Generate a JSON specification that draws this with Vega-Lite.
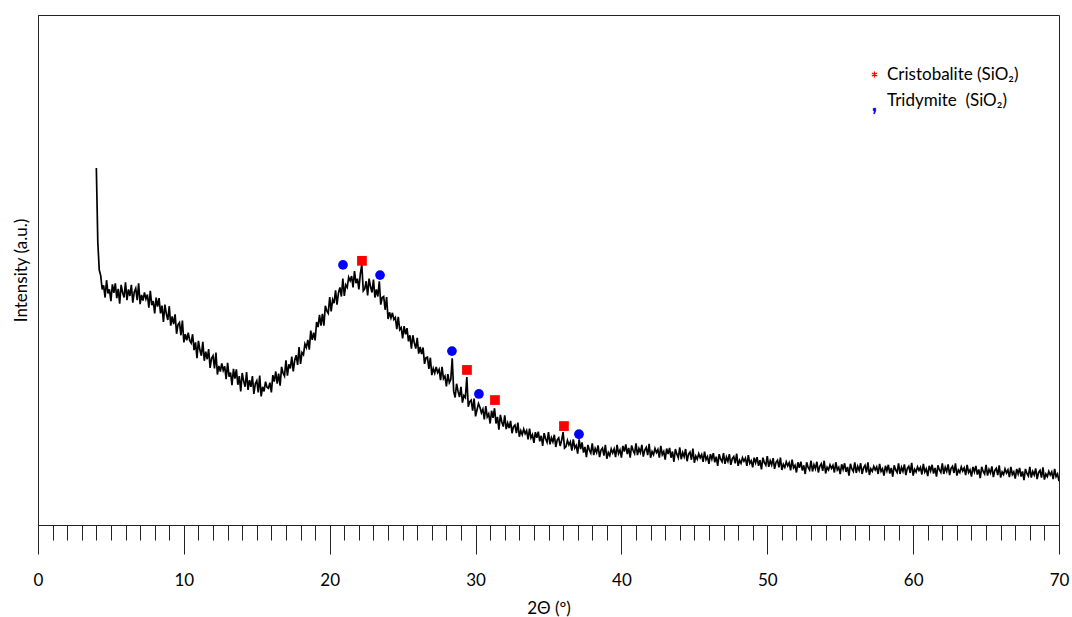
{
  "$schema": "https://vega.github.io/schema/vega-lite/v6.json",
  "width": 1021,
  "height": 510,
  "autosize": "none",
  "padding": {"left": 38, "top": 15, "right": 13, "bottom": 92},
  "background": "white",
  "config": {
    "view": {"stroke": "#222222", "strokeWidth": 1},
    "font": "Lato"
  },
  "resolve": {"scale": {"color": "independent"}, "legend": {"color": "independent"}},
  "datasets": {
    "pattern": [
      {"x":4.0,"y":70.0},{"x":4.1,"y":55.5},{"x":4.2,"y":50.0},{"x":4.3,"y":48.9},{"x":4.4,"y":46.2},
      {"x":4.5,"y":47.0},{"x":4.6,"y":44.6},{"x":4.7,"y":48.0},{"x":4.8,"y":45.4},{"x":4.9,"y":46.2},
      {"x":5.0,"y":43.9},{"x":5.1,"y":47.2},{"x":5.2,"y":45.5},{"x":5.3,"y":47.4},{"x":5.4,"y":44.5},
      {"x":5.5,"y":46.3},{"x":5.6,"y":43.4},{"x":5.7,"y":47.1},{"x":5.8,"y":45.6},{"x":5.9,"y":44.6},
      {"x":6.0,"y":47.6},{"x":6.1,"y":44.1},{"x":6.2,"y":46.2},{"x":6.3,"y":44.9},{"x":6.4,"y":47.1},
      {"x":6.5,"y":43.6},{"x":6.6,"y":45.7},{"x":6.7,"y":46.4},{"x":6.8,"y":44.1},{"x":6.9,"y":47.4},
      {"x":7.0,"y":43.3},{"x":7.1,"y":45.1},{"x":7.2,"y":44.0},{"x":7.3,"y":45.6},{"x":7.4,"y":44.3},
      {"x":7.5,"y":45.2},{"x":7.6,"y":42.6},{"x":7.7,"y":45.9},{"x":7.8,"y":43.1},{"x":7.9,"y":43.9},
      {"x":8.0,"y":41.5},{"x":8.1,"y":44.6},{"x":8.2,"y":42.8},{"x":8.3,"y":44.5},{"x":8.4,"y":41.5},
      {"x":8.5,"y":43.0},{"x":8.6,"y":39.8},{"x":8.7,"y":43.2},{"x":8.8,"y":41.4},{"x":8.9,"y":40.2},
      {"x":9.0,"y":42.9},{"x":9.1,"y":39.1},{"x":9.2,"y":40.9},{"x":9.3,"y":39.4},{"x":9.4,"y":41.3},
      {"x":9.5,"y":37.5},{"x":9.6,"y":39.3},{"x":9.7,"y":39.7},{"x":9.8,"y":37.2},{"x":9.9,"y":40.1},
      {"x":10.0,"y":35.8},{"x":10.1,"y":37.4},{"x":10.2,"y":36.2},{"x":10.3,"y":37.7},{"x":10.4,"y":36.2},
      {"x":10.5,"y":35.7},{"x":10.6,"y":37.4},{"x":10.7,"y":34.3},{"x":10.8,"y":35.8},{"x":10.9,"y":32.7},
      {"x":11.0,"y":36.1},{"x":11.1,"y":34.3},{"x":11.2,"y":33.2},{"x":11.3,"y":35.9},{"x":11.4,"y":32.2},
      {"x":11.5,"y":34.0},{"x":11.6,"y":32.5},{"x":11.7,"y":34.5},{"x":11.8,"y":30.8},{"x":11.9,"y":32.7},
      {"x":12.0,"y":33.2},{"x":12.1,"y":30.7},{"x":12.2,"y":33.8},{"x":12.3,"y":29.5},{"x":12.4,"y":31.2},
      {"x":12.5,"y":30.1},{"x":12.6,"y":31.7},{"x":12.7,"y":30.3},{"x":12.8,"y":31.1},{"x":12.9,"y":28.6},
      {"x":13.0,"y":31.8},{"x":13.1,"y":29.1},{"x":13.2,"y":29.9},{"x":13.3,"y":27.4},{"x":13.4,"y":30.6},
      {"x":13.5,"y":28.7},{"x":13.6,"y":30.5},{"x":13.7,"y":27.5},{"x":13.8,"y":29.2},{"x":13.9,"y":26.2},
      {"x":14.0,"y":29.8},{"x":14.1,"y":28.2},{"x":14.2,"y":27.1},{"x":14.3,"y":30.0},{"x":14.4,"y":26.5},
      {"x":14.5,"y":28.4},{"x":14.6,"y":27.1},{"x":14.7,"y":29.2},{"x":14.8,"y":25.7},{"x":14.9,"y":27.7},
      {"x":15.0,"y":28.3},{"x":15.1,"y":26.0},{"x":15.2,"y":29.3},{"x":15.3,"y":25.2},{"x":15.4,"y":27.1},
      {"x":15.5,"y":26.2},{"x":15.6,"y":28.1},{"x":15.7,"y":27.0},{"x":15.8,"y":26.8},{"x":15.9,"y":27.9},
      {"x":16.0,"y":26.0},{"x":16.1,"y":29.4},{"x":16.2,"y":28.1},{"x":16.3,"y":30.1},{"x":16.4,"y":27.7},
      {"x":16.5,"y":29.7},{"x":16.6,"y":27.3},{"x":16.7,"y":31.0},{"x":16.8,"y":29.8},{"x":16.9,"y":29.2},
      {"x":17.0,"y":32.3},{"x":17.1,"y":29.3},{"x":17.2,"y":31.5},{"x":17.3,"y":30.7},{"x":17.4,"y":33.0},
      {"x":17.5,"y":30.1},{"x":17.6,"y":32.3},{"x":17.7,"y":33.3},{"x":17.8,"y":31.4},{"x":17.9,"y":34.9},
      {"x":18.0,"y":31.6},{"x":18.1,"y":33.8},{"x":18.2,"y":33.4},{"x":18.3,"y":35.5},{"x":18.4,"y":34.8},
      {"x":18.5,"y":36.3},{"x":18.6,"y":34.4},{"x":18.7,"y":38.1},{"x":18.8,"y":36.3},{"x":18.9,"y":37.7},
      {"x":19.0,"y":36.2},{"x":19.1,"y":39.8},{"x":19.2,"y":38.8},{"x":19.3,"y":41.2},{"x":19.4,"y":39.1},
      {"x":19.5,"y":41.4},{"x":19.6,"y":39.1},{"x":19.7,"y":43.0},{"x":19.8,"y":42.0},{"x":19.9,"y":41.5},
      {"x":20.0,"y":44.7},{"x":20.1,"y":41.9},{"x":20.2,"y":44.2},{"x":20.3,"y":43.5},{"x":20.4,"y":46.0},
      {"x":20.5,"y":43.2},{"x":20.6,"y":45.5},{"x":20.7,"y":46.6},{"x":20.8,"y":44.8},{"x":20.9,"y":48.3},
      {"x":21.0,"y":44.9},{"x":21.1,"y":47.1},{"x":21.2,"y":46.6},{"x":21.3,"y":48.6},{"x":21.4,"y":47.9},
      {"x":21.5,"y":48.8},{"x":21.6,"y":46.6},{"x":21.7,"y":49.8},{"x":21.8,"y":47.4},{"x":21.9,"y":48.3},
      {"x":22.0,"y":46.2},{"x":22.1,"y":49.3},{"x":22.2,"y":51.0},{"x":22.3,"y":45.9},{"x":22.4,"y":46.3},
      {"x":22.5,"y":47.8},{"x":22.6,"y":45.0},{"x":22.7,"y":48.3},{"x":22.8,"y":46.7},{"x":22.9,"y":45.6},
      {"x":23.0,"y":48.1},{"x":23.1,"y":44.6},{"x":23.2,"y":46.2},{"x":23.3,"y":44.8},{"x":23.4,"y":47.8},
      {"x":23.5,"y":43.2},{"x":23.6,"y":44.6},{"x":23.7,"y":44.8},{"x":23.8,"y":42.2},{"x":23.9,"y":44.7},
      {"x":24.0,"y":40.4},{"x":24.1,"y":41.7},{"x":24.2,"y":40.6},{"x":24.3,"y":41.6},{"x":24.4,"y":40.3},
      {"x":24.5,"y":40.7},{"x":24.6,"y":38.4},{"x":24.7,"y":40.8},{"x":24.8,"y":38.3},{"x":24.9,"y":38.7},
      {"x":25.0,"y":36.6},{"x":25.1,"y":39.0},{"x":25.2,"y":37.4},{"x":25.3,"y":38.6},{"x":25.4,"y":36.0},
      {"x":25.5,"y":37.2},{"x":25.6,"y":34.6},{"x":25.7,"y":37.2},{"x":25.8,"y":35.7},{"x":25.9,"y":34.6},
      {"x":26.0,"y":36.7},{"x":26.1,"y":33.6},{"x":26.2,"y":34.9},{"x":26.3,"y":33.5},{"x":26.4,"y":34.8},
      {"x":26.5,"y":31.6},{"x":26.6,"y":32.8},{"x":26.7,"y":32.9},{"x":26.8,"y":30.6},{"x":26.9,"y":32.8},
      {"x":27.0,"y":29.4},{"x":27.1,"y":30.7},{"x":27.2,"y":29.8},{"x":27.3,"y":31.0},{"x":27.4,"y":29.9},
      {"x":27.5,"y":30.5},{"x":27.6,"y":28.4},{"x":27.7,"y":31.0},{"x":27.8,"y":28.7},{"x":27.9,"y":29.2},
      {"x":28.0,"y":27.2},{"x":28.1,"y":29.6},{"x":28.2,"y":27.9},{"x":28.3,"y":28.5},{"x":28.4,"y":32.7},
      {"x":28.5,"y":26.2},{"x":28.6,"y":25.0},{"x":28.7,"y":27.7},{"x":28.8,"y":26.2},{"x":28.9,"y":25.1},
      {"x":29.0,"y":27.1},{"x":29.1,"y":24.0},{"x":29.2,"y":25.4},{"x":29.3,"y":25.0},{"x":29.4,"y":29.0},
      {"x":29.5,"y":23.2},{"x":29.6,"y":24.2},{"x":29.7,"y":24.5},{"x":29.8,"y":22.4},{"x":29.9,"y":24.8},
      {"x":30.0,"y":21.3},{"x":30.1,"y":22.6},{"x":30.2,"y":23.8},{"x":30.3,"y":23.1},{"x":30.4,"y":22.0},
      {"x":30.5,"y":22.7},{"x":30.6,"y":20.7},{"x":30.7,"y":23.3},{"x":30.8,"y":21.2},{"x":30.9,"y":21.8},
      {"x":31.0,"y":19.9},{"x":31.1,"y":22.4},{"x":31.2,"y":21.0},{"x":31.3,"y":22.9},{"x":31.4,"y":19.9},
      {"x":31.5,"y":21.2},{"x":31.6,"y":18.7},{"x":31.7,"y":21.6},{"x":31.8,"y":20.2},{"x":31.9,"y":19.3},
      {"x":32.0,"y":21.5},{"x":32.1,"y":18.8},{"x":32.2,"y":20.0},{"x":32.3,"y":19.0},{"x":32.4,"y":20.4},
      {"x":32.5,"y":18.0},{"x":32.6,"y":19.3},{"x":32.7,"y":19.6},{"x":32.8,"y":18.0},{"x":32.9,"y":20.1},
      {"x":33.0,"y":17.3},{"x":33.1,"y":18.5},{"x":33.2,"y":17.7},{"x":33.3,"y":18.8},{"x":33.4,"y":17.9},
      {"x":33.5,"y":18.5},{"x":33.6,"y":16.8},{"x":33.7,"y":18.9},{"x":33.8,"y":17.1},{"x":33.9,"y":17.7},
      {"x":34.0,"y":16.1},{"x":34.1,"y":18.2},{"x":34.2,"y":17.1},{"x":34.3,"y":18.3},{"x":34.4,"y":16.4},
      {"x":34.5,"y":17.5},{"x":34.6,"y":15.5},{"x":34.7,"y":18.0},{"x":34.8,"y":16.9},{"x":34.9,"y":16.2},
      {"x":35.0,"y":18.2},{"x":35.1,"y":15.8},{"x":35.2,"y":17.1},{"x":35.3,"y":16.3},{"x":35.4,"y":17.7},
      {"x":35.5,"y":15.3},{"x":35.6,"y":16.7},{"x":35.7,"y":17.1},{"x":35.8,"y":15.5},{"x":35.9,"y":16.6},
      {"x":36.0,"y":18.2},{"x":36.1,"y":15.1},{"x":36.2,"y":15.4},{"x":36.3,"y":16.6},{"x":36.4,"y":15.7},
      {"x":36.5,"y":16.3},{"x":36.6,"y":14.6},{"x":36.7,"y":16.8},{"x":36.8,"y":15.1},{"x":36.9,"y":15.6},
      {"x":37.0,"y":14.0},{"x":37.1,"y":16.8},{"x":37.2,"y":14.9},{"x":37.3,"y":16.2},{"x":37.4,"y":14.2},
      {"x":37.5,"y":15.3},{"x":37.6,"y":13.3},{"x":37.7,"y":15.7},{"x":37.8,"y":14.7},{"x":37.9,"y":14.1},
      {"x":38.0,"y":16.0},{"x":38.1,"y":13.7},{"x":38.2,"y":15.0},{"x":38.3,"y":14.2},{"x":38.4,"y":15.6},
      {"x":38.5,"y":13.3},{"x":38.6,"y":14.7},{"x":38.7,"y":15.1},{"x":38.8,"y":13.6},{"x":38.9,"y":15.7},
      {"x":39.0,"y":13.0},{"x":39.1,"y":14.2},{"x":39.2,"y":13.6},{"x":39.3,"y":14.9},{"x":39.4,"y":14.1},
      {"x":39.5,"y":14.9},{"x":39.6,"y":13.3},{"x":39.7,"y":15.7},{"x":39.8,"y":14.0},{"x":39.9,"y":14.7},
      {"x":40.0,"y":13.2},{"x":40.1,"y":15.5},{"x":40.2,"y":14.4},{"x":40.3,"y":15.8},{"x":40.4,"y":13.9},
      {"x":40.5,"y":15.1},{"x":40.6,"y":13.2},{"x":40.7,"y":15.6},{"x":40.8,"y":14.6},{"x":40.9,"y":14.0},
      {"x":41.0,"y":16.0},{"x":41.1,"y":13.7},{"x":41.2,"y":15.0},{"x":41.3,"y":14.2},{"x":41.4,"y":15.7},
      {"x":41.5,"y":13.4},{"x":41.6,"y":14.7},{"x":41.7,"y":15.2},{"x":41.8,"y":13.7},{"x":41.9,"y":15.9},
      {"x":42.0,"y":13.2},{"x":42.1,"y":14.4},{"x":42.2,"y":13.8},{"x":42.3,"y":15.0},{"x":42.4,"y":14.2},
      {"x":42.5,"y":14.8},{"x":42.6,"y":13.2},{"x":42.7,"y":15.5},{"x":42.8,"y":13.8},{"x":42.9,"y":14.4},
      {"x":43.0,"y":12.8},{"x":43.1,"y":15.0},{"x":43.2,"y":13.9},{"x":43.3,"y":15.1},{"x":43.4,"y":13.2},
      {"x":43.5,"y":14.4},{"x":43.6,"y":12.4},{"x":43.7,"y":14.9},{"x":43.8,"y":13.9},{"x":43.9,"y":13.2},
      {"x":44.0,"y":15.2},{"x":44.1,"y":12.9},{"x":44.2,"y":14.2},{"x":44.3,"y":13.4},{"x":44.4,"y":14.9},
      {"x":44.5,"y":12.5},{"x":44.6,"y":13.9},{"x":44.7,"y":14.3},{"x":44.8,"y":12.8},{"x":44.9,"y":15.0},
      {"x":45.0,"y":12.2},{"x":45.1,"y":13.5},{"x":45.2,"y":12.9},{"x":45.3,"y":14.0},{"x":45.4,"y":13.2},
      {"x":45.5,"y":13.8},{"x":45.6,"y":12.4},{"x":45.7,"y":14.4},{"x":45.8,"y":12.8},{"x":45.9,"y":13.4},
      {"x":46.0,"y":12.0},{"x":46.1,"y":13.9},{"x":46.2,"y":12.9},{"x":46.3,"y":14.1},{"x":46.4,"y":12.3},
      {"x":46.5,"y":13.4},{"x":46.6,"y":11.6},{"x":46.7,"y":13.9},{"x":46.8,"y":12.9},{"x":46.9,"y":12.4},
      {"x":47.0,"y":14.1},{"x":47.1,"y":12.0},{"x":47.2,"y":13.3},{"x":47.3,"y":12.5},{"x":47.4,"y":13.9},
      {"x":47.5,"y":11.8},{"x":47.6,"y":13.0},{"x":47.7,"y":13.4},{"x":47.8,"y":12.1},{"x":47.9,"y":14.0},
      {"x":48.0,"y":11.6},{"x":48.1,"y":12.7},{"x":48.2,"y":12.1},{"x":48.3,"y":13.2},{"x":48.4,"y":12.5},
      {"x":48.5,"y":13.1},{"x":48.6,"y":11.6},{"x":48.7,"y":13.7},{"x":48.8,"y":12.1},{"x":48.9,"y":12.6},
      {"x":49.0,"y":11.3},{"x":49.1,"y":13.2},{"x":49.2,"y":12.2},{"x":49.3,"y":13.3},{"x":49.4,"y":11.6},
      {"x":49.5,"y":12.7},{"x":49.6,"y":10.9},{"x":49.7,"y":13.2},{"x":49.8,"y":12.2},{"x":49.9,"y":11.7},
      {"x":50.0,"y":13.5},{"x":50.1,"y":11.4},{"x":50.2,"y":12.6},{"x":50.3,"y":11.8},{"x":50.4,"y":13.1},
      {"x":50.5,"y":11.0},{"x":50.6,"y":12.3},{"x":50.7,"y":12.7},{"x":50.8,"y":11.3},{"x":50.9,"y":13.2},
      {"x":51.0,"y":10.8},{"x":51.1,"y":11.9},{"x":51.2,"y":11.3},{"x":51.3,"y":12.4},{"x":51.4,"y":11.6},
      {"x":51.5,"y":12.2},{"x":51.6,"y":10.7},{"x":51.7,"y":12.8},{"x":51.8,"y":11.2},{"x":51.9,"y":11.7},
      {"x":52.0,"y":10.3},{"x":52.1,"y":12.3},{"x":52.2,"y":11.2},{"x":52.3,"y":12.4},{"x":52.4,"y":10.7},
      {"x":52.5,"y":11.7},{"x":52.6,"y":10.0},{"x":52.7,"y":12.3},{"x":52.8,"y":11.3},{"x":52.9,"y":10.8},
      {"x":53.0,"y":12.6},{"x":53.1,"y":10.5},{"x":53.2,"y":11.8},{"x":53.3,"y":11.0},{"x":53.4,"y":12.4},
      {"x":53.5,"y":10.3},{"x":53.6,"y":11.5},{"x":53.7,"y":12.0},{"x":53.8,"y":10.6},{"x":53.9,"y":12.6},
      {"x":54.0,"y":10.1},{"x":54.1,"y":11.3},{"x":54.2,"y":10.8},{"x":54.3,"y":11.8},{"x":54.4,"y":11.1},
      {"x":54.5,"y":11.7},{"x":54.6,"y":10.3},{"x":54.7,"y":12.3},{"x":54.8,"y":10.8},{"x":54.9,"y":11.3},
      {"x":55.0,"y":10.0},{"x":55.1,"y":11.9},{"x":55.2,"y":10.9},{"x":55.3,"y":12.1},{"x":55.4,"y":10.4},
      {"x":55.5,"y":11.4},{"x":55.6,"y":9.7},{"x":55.7,"y":12.0},{"x":55.8,"y":11.0},{"x":55.9,"y":10.5},
      {"x":56.0,"y":12.3},{"x":56.1,"y":10.2},{"x":56.2,"y":11.5},{"x":56.3,"y":10.7},{"x":56.4,"y":12.1},
      {"x":56.5,"y":10.0},{"x":56.6,"y":11.2},{"x":56.7,"y":11.7},{"x":56.8,"y":10.3},{"x":56.9,"y":12.3},
      {"x":57.0,"y":9.8},{"x":57.1,"y":11.0},{"x":57.2,"y":10.5},{"x":57.3,"y":11.5},{"x":57.4,"y":10.8},
      {"x":57.5,"y":11.4},{"x":57.6,"y":10.0},{"x":57.7,"y":12.0},{"x":57.8,"y":10.5},{"x":57.9,"y":11.0},
      {"x":58.0,"y":9.7},{"x":58.1,"y":11.6},{"x":58.2,"y":10.6},{"x":58.3,"y":11.8},{"x":58.4,"y":10.1},
      {"x":58.5,"y":11.2},{"x":58.6,"y":9.5},{"x":58.7,"y":11.7},{"x":58.8,"y":10.8},{"x":58.9,"y":10.3},
      {"x":59.0,"y":12.1},{"x":59.1,"y":10.0},{"x":59.2,"y":11.3},{"x":59.3,"y":10.5},{"x":59.4,"y":11.9},
      {"x":59.5,"y":9.8},{"x":59.6,"y":11.1},{"x":59.7,"y":11.5},{"x":59.8,"y":10.2},{"x":59.9,"y":12.2},
      {"x":60.0,"y":9.7},{"x":60.1,"y":10.9},{"x":60.2,"y":10.4},{"x":60.3,"y":11.4},{"x":60.4,"y":10.7},
      {"x":60.5,"y":11.3},{"x":60.6,"y":9.9},{"x":60.7,"y":12.0},{"x":60.8,"y":10.4},{"x":60.9,"y":11.0},
      {"x":61.0,"y":9.6},{"x":61.1,"y":11.6},{"x":61.2,"y":10.6},{"x":61.3,"y":11.8},{"x":61.4,"y":10.1},
      {"x":61.5,"y":11.2},{"x":61.6,"y":9.5},{"x":61.7,"y":11.7},{"x":61.8,"y":10.8},{"x":61.9,"y":10.3},
      {"x":62.0,"y":12.1},{"x":62.1,"y":10.0},{"x":62.2,"y":11.3},{"x":62.3,"y":10.5},{"x":62.4,"y":11.9},
      {"x":62.5,"y":9.8},{"x":62.6,"y":11.1},{"x":62.7,"y":11.5},{"x":62.8,"y":10.2},{"x":62.9,"y":12.1},
      {"x":63.0,"y":9.7},{"x":63.1,"y":10.8},{"x":63.2,"y":10.3},{"x":63.3,"y":11.4},{"x":63.4,"y":10.6},
      {"x":63.5,"y":11.2},{"x":63.6,"y":9.8},{"x":63.7,"y":11.8},{"x":63.8,"y":10.3},{"x":63.9,"y":10.8},
      {"x":64.0,"y":9.5},{"x":64.1,"y":11.4},{"x":64.2,"y":10.4},{"x":64.3,"y":11.6},{"x":64.4,"y":9.9},
      {"x":64.5,"y":10.9},{"x":64.6,"y":9.2},{"x":64.7,"y":11.4},{"x":64.8,"y":10.5},{"x":64.9,"y":10.0},
      {"x":65.0,"y":11.8},{"x":65.1,"y":9.7},{"x":65.2,"y":10.9},{"x":65.3,"y":10.2},{"x":65.4,"y":11.5},
      {"x":65.5,"y":9.4},{"x":65.6,"y":10.7},{"x":65.7,"y":11.1},{"x":65.8,"y":9.8},{"x":65.9,"y":11.7},
      {"x":66.0,"y":9.3},{"x":66.1,"y":10.4},{"x":66.2,"y":9.9},{"x":66.3,"y":11.0},{"x":66.4,"y":10.2},
      {"x":66.5,"y":10.8},{"x":66.6,"y":9.4},{"x":66.7,"y":11.4},{"x":66.8,"y":9.9},{"x":66.9,"y":10.4},
      {"x":67.0,"y":9.1},{"x":67.1,"y":11.0},{"x":67.2,"y":10.0},{"x":67.3,"y":11.2},{"x":67.4,"y":9.5},
      {"x":67.5,"y":10.5},{"x":67.6,"y":8.8},{"x":67.7,"y":11.0},{"x":67.8,"y":10.1},{"x":67.9,"y":9.6},
      {"x":68.0,"y":11.4},{"x":68.1,"y":9.3},{"x":68.2,"y":10.5},{"x":68.3,"y":9.8},{"x":68.4,"y":11.1},
      {"x":68.5,"y":9.0},{"x":68.6,"y":10.3},{"x":68.7,"y":10.7},{"x":68.8,"y":9.3},{"x":68.9,"y":11.3},
      {"x":69.0,"y":8.9},{"x":69.1,"y":10.0},{"x":69.2,"y":9.5},{"x":69.3,"y":10.5},{"x":69.4,"y":9.8},
      {"x":69.5,"y":10.4},{"x":69.6,"y":9.0},{"x":69.7,"y":11.0},{"x":69.8,"y":9.5},{"x":69.9,"y":10.0},
      {"x":70.0,"y":8.6}
    ],
    "peaks": [
      {"x":20.91,"y":51.0,"phase":"Tridymite\u00a0 (SiO\u2082)"},
      {"x":23.45,"y":49.0,"phase":"Tridymite\u00a0 (SiO\u2082)"},
      {"x":28.38,"y":34.1,"phase":"Tridymite\u00a0 (SiO\u2082)"},
      {"x":30.23,"y":25.7,"phase":"Tridymite\u00a0 (SiO\u2082)"},
      {"x":37.09,"y":17.8,"phase":"Tridymite\u00a0 (SiO\u2082)"},
      {"x":22.21,"y":51.8,"phase":"Cristobalite (SiO\u2082)"},
      {"x":29.41,"y":30.4,"phase":"Cristobalite (SiO\u2082)"},
      {"x":31.33,"y":24.5,"phase":"Cristobalite (SiO\u2082)"},
      {"x":36.06,"y":19.4,"phase":"Cristobalite (SiO\u2082)"}
    ]
  },
  "layer": [
    {
      "data": {"name": "pattern"},
      "mark": {"type": "line", "color": "black", "strokeWidth": 1.7, "clip": true},
      "encoding": {
        "x": {
          "field": "x", "type": "quantitative",
          "scale": {"domain": [0, 70], "nice": false, "zero": false},
          "axis": {
            "title": "2\u0398 (\u00ba)",
            "titleFont": "Lato", "titleFontSize": 17, "titleFontWeight": "normal", "titleColor": "black",
            "titlePadding": 12,
            "values": [0,1,2,3,4,5,6,7,8,9,10,11,12,13,14,15,16,17,18,19,20,21,22,23,24,25,26,27,28,29,30,31,32,33,34,35,36,37,38,39,40,41,42,43,44,45,46,47,48,49,50,51,52,53,54,55,56,57,58,59,60,61,62,63,64,65,66,67,68,69,70],
            "tickCount": 200,
            "format": "d",
            "labelExpr": "datum.value % 10 === 0 ? datum.label : ''",
            "labelFont": "Lato", "labelFontSize": 17, "labelColor": "black",
            "labelPadding": 18, "labelFlush": false, "labelOverlap": false,
            "tickSize": {"condition": {"test": "datum.value % 10 === 0", "value": 29}, "value": 15},
            "tickColor": "#222222", "tickWidth": 1,
            "domainColor": "#222222", "grid": false
          }
        },
        "y": {
          "field": "y", "type": "quantitative",
          "scale": {"domain": [0, 100], "nice": false},
          "axis": {
            "title": "Intensity (a.u.)",
            "titleFont": "Lato", "titleFontSize": 17, "titleFontWeight": "normal", "titleColor": "black",
            "titlePadding": 8,
            "labels": false, "ticks": false, "grid": false,
            "domainColor": "#222222"
          }
        }
      }
    },
    {
      "data": {"name": "peaks"},
      "transform": [{"filter": "datum.phase === 'Cristobalite (SiO\u2082)'"}],
      "mark": {"type": "point", "shape": "square", "filled": true, "opacity": 1, "size": 95},
      "encoding": {
        "x": {"field": "x", "type": "quantitative"},
        "y": {"field": "y", "type": "quantitative"},
        "color": {
          "field": "phase", "type": "nominal",
          "scale": {"domain": ["Cristobalite (SiO\u2082)"], "range": ["#ff0000"]},
          "legend": {
            "title": null,
            "orient": "none", "legendX": 828, "legendY": 51,
            "labelFont": "Lato", "labelFontSize": 17, "labelColor": "black",
            "symbolType": "M0,-1V1M-0.87,-0.5L0.87,0.5M-0.87,0.5L0.87,-0.5",
            "symbolSize": 36, "symbolStrokeColor": "#ff0000", "symbolStrokeWidth": 1.2,
            "labelOffset": 4
          }
        }
      }
    },
    {
      "data": {"name": "peaks"},
      "transform": [{"filter": "datum.phase !== 'Cristobalite (SiO\u2082)'"}],
      "mark": {"type": "point", "shape": "circle", "filled": true, "opacity": 1, "size": 95},
      "encoding": {
        "x": {"field": "x", "type": "quantitative"},
        "y": {"field": "y", "type": "quantitative"},
        "color": {
          "field": "phase", "type": "nominal",
          "scale": {"domain": ["Tridymite\u00a0 (SiO\u2082)"], "range": ["#0000ff"]},
          "legend": {
            "title": null,
            "orient": "none", "legendX": 828, "legendY": 77,
            "labelFont": "Lato", "labelFontSize": 17, "labelColor": "black",
            "symbolType": "M-0.4,2.6L0.4,2.6L0.4,3.4L0,4.4L-0.25,4.4L0,3.4L-0.4,3.4Z",
            "symbolSize": 36, "symbolStrokeColor": "#0000ff", "symbolStrokeWidth": 0.8,
            "labelOffset": 4
          }
        }
      }
    }
  ]
}
